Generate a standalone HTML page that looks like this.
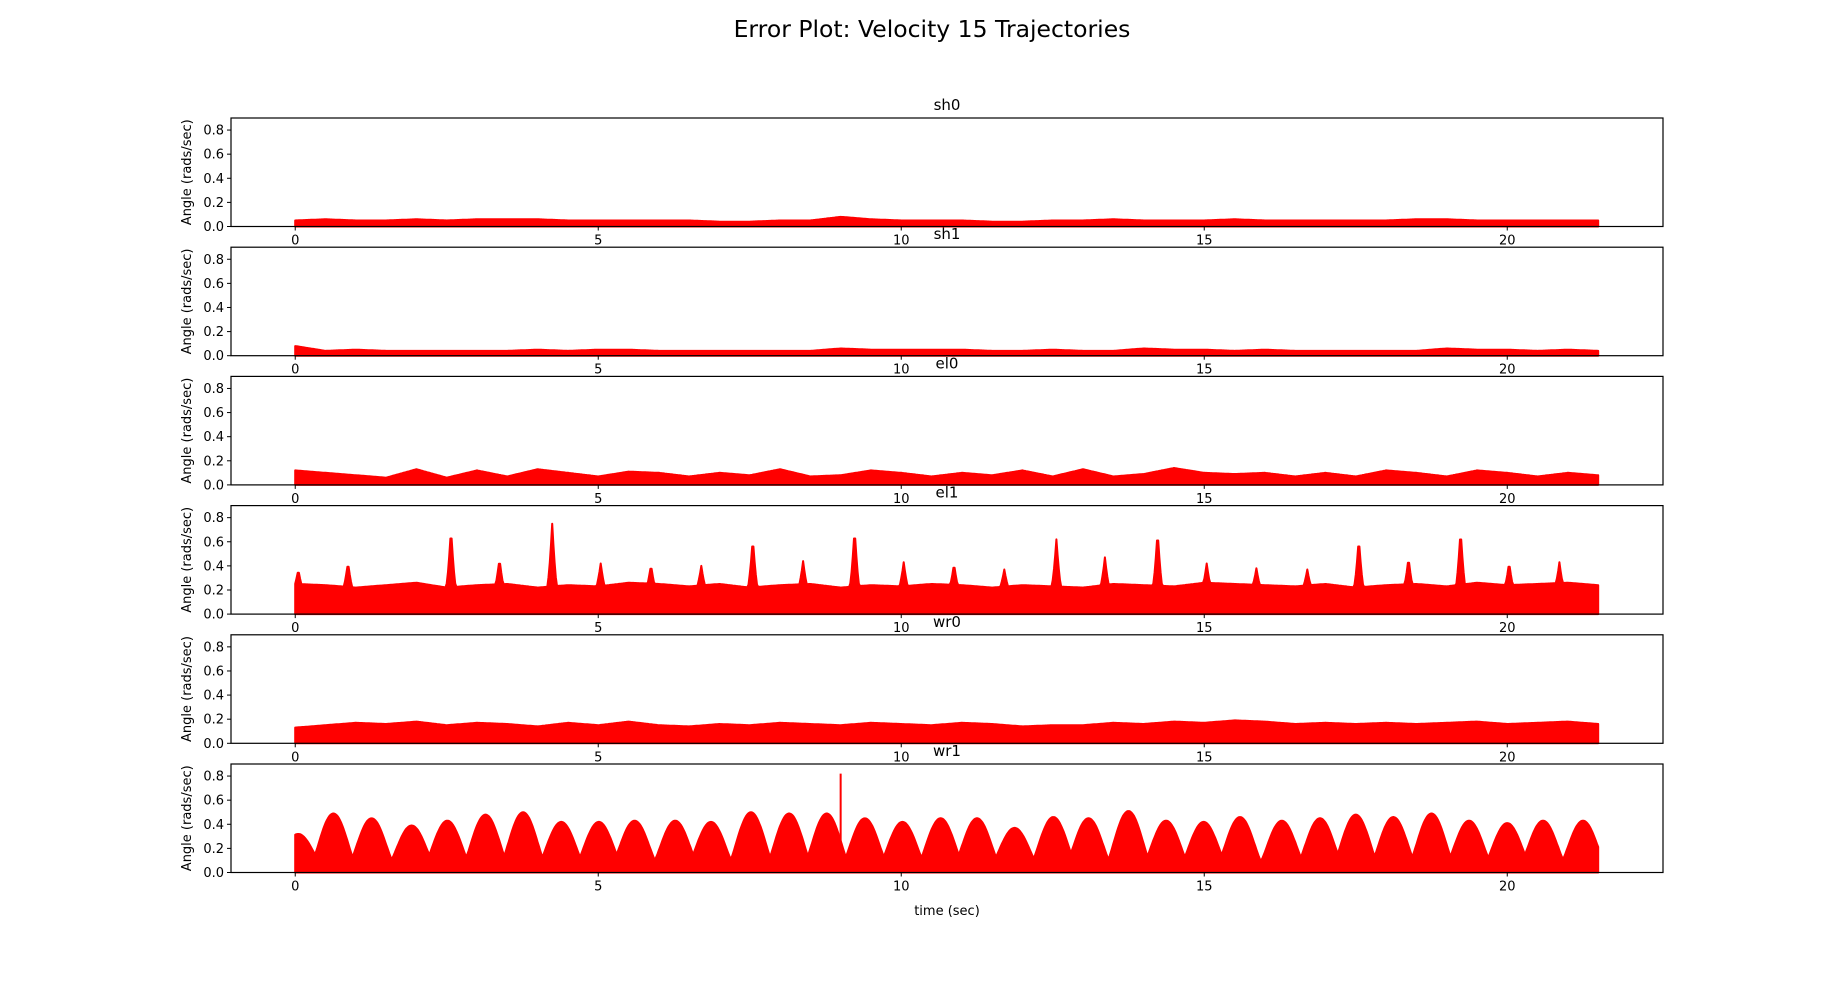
<!DOCTYPE html>
<html><head><meta charset="utf-8"><style>
html,body{margin:0;padding:0;background:#fff;}
svg{display:block;font-family:"DejaVu Sans","Liberation Sans",sans-serif;}
</style></head><body>
<svg id="fig" width="1848" height="982" viewBox="0 0 1848 982" xmlns="http://www.w3.org/2000/svg">
<text x="932" y="37" font-size="23.5" text-anchor="middle">Error Plot: Velocity 15 Trajectories</text>
<text x="947" y="915" font-size="13" text-anchor="middle">time (sec)</text>
</svg>
<script>
// ---- data ----
const joints = ["sh0","sh1","el0","el1","wr0","wr1"];
const xTicks = [0,5,10,15,20];
const yTicks = [0.0,0.2,0.4,0.6,0.8];
const sampleTimes = [0,0.5,1,1.5,2,2.5,3,3.5,4,4.5,5,5.5,6,6.5,7,7.5,8,8.5,9,9.5,10,10.5,11,11.5,12,12.5,13,13.5,14,14.5,15,15.5,16,16.5,17,17.5,18,18.5,19,19.5,20,20.5,21,21.5];
const sh0Env = [0.05,0.06,0.05,0.05,0.06,0.05,0.06,0.06,0.06,0.05,0.05,0.05,0.05,0.05,0.04,0.04,0.05,0.05,0.08,0.06,0.05,0.05,0.05,0.04,0.04,0.05,0.05,0.06,0.05,0.05,0.05,0.06,0.05,0.05,0.05,0.05,0.05,0.06,0.06,0.05,0.05,0.05,0.05,0.05];
const sh1Env = [0.08,0.04,0.05,0.04,0.04,0.04,0.04,0.04,0.05,0.04,0.05,0.05,0.04,0.04,0.04,0.04,0.04,0.04,0.06,0.05,0.05,0.05,0.05,0.04,0.04,0.05,0.04,0.04,0.06,0.05,0.05,0.04,0.05,0.04,0.04,0.04,0.04,0.04,0.06,0.05,0.05,0.04,0.05,0.04];
const el0Env = [0.12,0.10,0.08,0.06,0.13,0.06,0.12,0.07,0.13,0.10,0.07,0.11,0.10,0.07,0.10,0.08,0.13,0.07,0.08,0.12,0.10,0.07,0.10,0.08,0.12,0.07,0.13,0.07,0.09,0.14,0.10,0.09,0.10,0.07,0.10,0.07,0.12,0.10,0.07,0.12,0.10,0.07,0.10,0.08];
const el1Base = [0.25,0.24,0.22,0.24,0.26,0.22,0.24,0.25,0.22,0.24,0.23,0.26,0.25,0.23,0.25,0.22,0.24,0.25,0.22,0.24,0.23,0.25,0.24,0.22,0.24,0.23,0.22,0.25,0.24,0.23,0.26,0.25,0.24,0.23,0.25,0.22,0.24,0.25,0.23,0.26,0.24,0.25,0.26,0.24];
const el1SpikeT = [0.05,0.87,2.57,3.37,4.24,5.04,5.87,6.70,7.55,8.38,9.23,10.04,10.87,11.70,12.56,13.36,14.23,15.04,15.86,16.70,17.55,18.37,19.23,20.03,20.86];
const el1SpikeV = [0.37,0.43,0.71,0.46,0.75,0.42,0.41,0.40,0.63,0.44,0.71,0.43,0.42,0.37,0.62,0.47,0.69,0.42,0.38,0.37,0.63,0.47,0.70,0.43,0.43];
const wr0Env = [0.13,0.15,0.17,0.16,0.18,0.15,0.17,0.16,0.14,0.17,0.15,0.18,0.15,0.14,0.16,0.15,0.17,0.16,0.15,0.17,0.16,0.15,0.17,0.16,0.14,0.15,0.15,0.17,0.16,0.18,0.17,0.19,0.18,0.16,0.17,0.16,0.17,0.16,0.17,0.18,0.16,0.17,0.18,0.16];
const wr1PeakT = [0.05,0.63,1.26,1.92,2.51,3.14,3.76,4.39,5.01,5.60,6.27,6.86,7.52,8.15,8.77,9.40,10.02,10.65,11.25,11.87,12.51,13.09,13.75,14.37,14.99,15.59,16.28,16.91,17.50,18.12,18.75,19.37,20.00,20.59,21.25];
const wr1PeakV = [0.32,0.49,0.45,0.39,0.43,0.48,0.50,0.42,0.42,0.43,0.43,0.42,0.50,0.49,0.49,0.45,0.42,0.45,0.45,0.37,0.46,0.45,0.51,0.43,0.42,0.46,0.43,0.45,0.48,0.46,0.49,0.43,0.41,0.43,0.43];
const wr1SpikeT = [9.0];
const wr1SpikeV = [0.82];

// ---- layout ----
const NS = "http://www.w3.org/2000/svg";
const svg = document.getElementById("fig");
const L = 231, R = 1663, top0 = 118, H = 108.5, STEP = 129.2;
const xMin = -1.06, xMax = 22.57, yMax = 0.9;
function xs(t){ return L + (t - xMin) / (xMax - xMin) * (R - L); }
function ys(v, top){ return top + H - v / yMax * H; }
function mk(tag, attrs, parent){
  const e = document.createElementNS(NS, tag);
  for (const k in attrs) e.setAttribute(k, attrs[k]);
  (parent || svg).appendChild(e);
  return e;
}
function interp(arr, t){
  const i = Math.min(Math.floor(t / 0.5), arr.length - 2);
  const f = Math.max(0, Math.min(1, (t - i * 0.5) / 0.5));
  return arr[i] * (1 - f) + arr[i + 1] * f;
}
function spikes(t, T, V, w, base){
  let m = 0;
  for (let i = 0; i < T.length; i++){
    const d = Math.abs(t - T[i]);
    if (d < w) m = Math.max(m, base + (V[i] - base) * Math.pow(1 - d / w, 1.5));
  }
  return m;
}
function envelope(j, t){
  if (j === 0) return interp(sh0Env, t);
  if (j === 1) return interp(sh1Env, t);
  if (j === 2) return interp(el0Env, t);
  if (j === 3) return Math.max(interp(el1Base, t), spikes(t, el1SpikeT, el1SpikeV, 0.09, 0.2));
  if (j === 4) return interp(wr0Env, t);
  let m = 0.1;
  for (let i = 0; i < wr1PeakT.length; i++){
    const d = Math.abs(t - wr1PeakT[i]);
    if (d < 0.34) m = Math.max(m, 0.1 + (wr1PeakV[i] - 0.1) * Math.pow(0.5 + 0.5 * Math.cos(Math.PI * d / 0.34), 0.6));
  }
  return m;
}

joints.forEach((name, j) => {
  const top = top0 + j * STEP;
  const g = mk("g", {});
  
  
  const pts = [];
  const tEnd = 21.5;
  pts.push(xs(0).toFixed(1) + "," + ys(0, top).toFixed(1));
  for (let t = 0; t <= tEnd + 1e-9; t += 0.02){
    pts.push(xs(t).toFixed(1) + "," + ys(envelope(j, t), top).toFixed(1));
  }
  pts.push(xs(tEnd).toFixed(1) + "," + ys(0, top).toFixed(1));
  const area = mk("polygon", {points: pts.join(" "), fill: "#ff0000", stroke: "#ff0000", "stroke-width": 2, "stroke-linejoin": "round"}, g);
  
  
  if (j === 5){
    wr1SpikeT.forEach((st, i) => {
      const sp = mk("line", {x1: xs(st), x2: xs(st), y1: ys(0, top), y2: ys(wr1SpikeV[i], top), stroke: "#ff0000", "stroke-width": 2}, g);
      
      
    });
  }
  const fr = mk("rect", {x: L, y: top, width: R - L, height: H, fill: "none", stroke: "#000", "stroke-width": 1.2}, g);
  
  
  const tt = mk("text", {x: (L + R) / 2, y: top - 8, "font-size": 15, "text-anchor": "middle"}, g);
  tt.textContent = name;
  
  
  const cy = top + H / 2;
  const yl = mk("text", {x: 191, y: cy, "font-size": 13, "text-anchor": "middle", transform: "rotate(-90 191 " + cy + ")"}, g);
  yl.textContent = "Angle (rads/sec)";
  
  
  yTicks.forEach(v => {
    const y = ys(v, top);
    const tk = mk("line", {x1: L - 4, x2: L, y1: y, y2: y, stroke: "#000", "stroke-width": 1}, g);
    
    
    const lb = mk("text", {x: L - 7, y: y + 4.5, "font-size": 13, "text-anchor": "end"}, g);
    lb.textContent = v.toFixed(1);
    
    
  });
  xTicks.forEach(v => {
    const x = xs(v);
    const tk = mk("line", {x1: x, x2: x, y1: top + H, y2: top + H + 4, stroke: "#000", "stroke-width": 1}, g);
    
    
    const lb = mk("text", {x: x, y: top + H + 18, "font-size": 13, "text-anchor": "middle"}, g);
    lb.textContent = String(v);
    
    
  });
});
</script>
</body></html>
